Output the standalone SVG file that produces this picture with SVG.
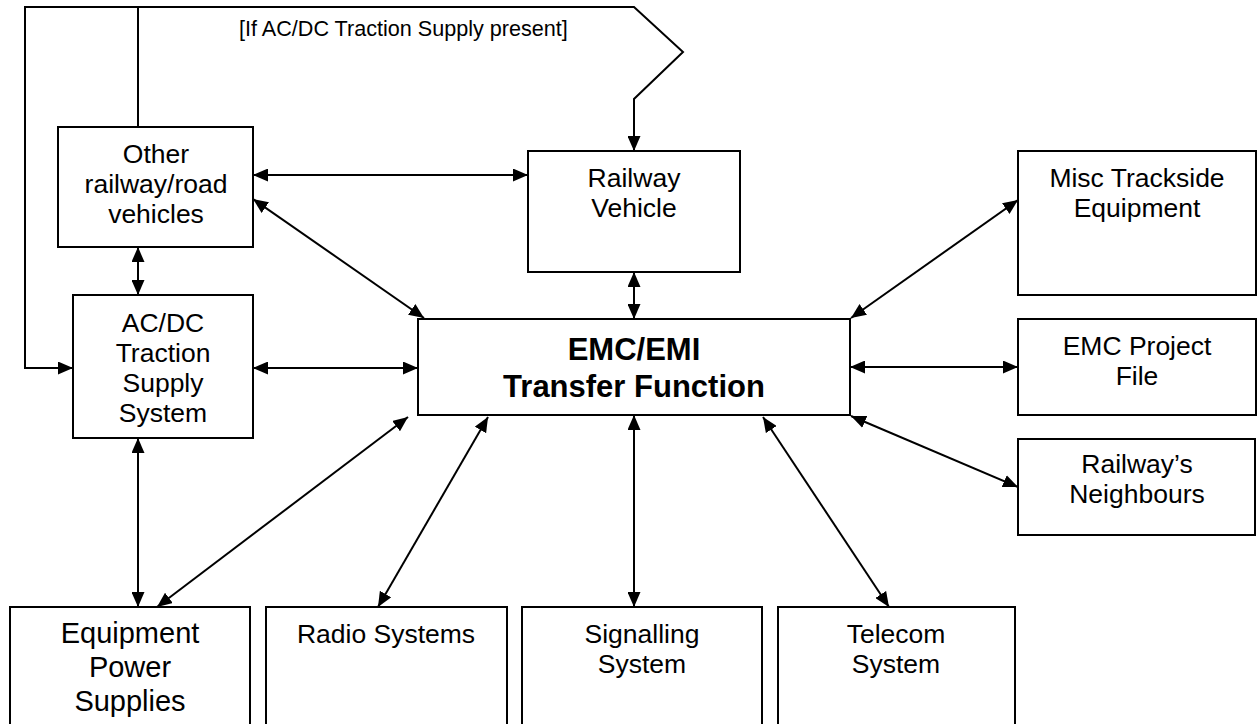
<svg xmlns="http://www.w3.org/2000/svg" width="1258" height="724" viewBox="0 0 1258 724">
  <style>
    .box { fill: #ffffff; stroke: #000000; stroke-width: 2; }
    .lbl { font-family: "Liberation Sans", Arial, sans-serif; font-size: 26.5px; fill: #000000; text-anchor: middle; }
    .big { font-family: "Liberation Sans", Arial, sans-serif; font-size: 29px; fill: #000000; text-anchor: middle; }
    .main { font-family: "Liberation Sans", Arial, sans-serif; font-size: 31px; font-weight: bold; fill: #000000; text-anchor: middle; }
    .note { font-family: "Liberation Sans", Arial, sans-serif; font-size: 21.6px; fill: #000000; }
    .con { fill: none; stroke: #000000; stroke-width: 2; }
    .both { marker-start: url(#ah); marker-end: url(#ah); }
    .one { marker-end: url(#ah); }
  </style>
  <defs>
    <marker id="ah" markerUnits="userSpaceOnUse" markerWidth="15" markerHeight="13" refX="15" refY="6.5" orient="auto-start-reverse" viewBox="0 0 15 13">
      <path d="M0,0 L15,6.5 L0,13 Z" fill="#000000"/>
    </marker>
  </defs>
  <rect x="0" y="0" width="1258" height="724" fill="#ffffff"/>

  <g id="connectors">
    <polyline class="con one" points="634,7 25,7 25,368 73,368" />
    <polyline class="con one" points="138,7 634,7 683,52 634,99 634,151" />
    <line class="con" x1="138" y1="7" x2="138" y2="127" />
    <line class="con both" x1="253" y1="175" x2="528" y2="175" />
    <line class="con both" x1="253" y1="199" x2="424" y2="318" />
    <line class="con both" x1="138" y1="247" x2="138" y2="295" />
    <line class="con both" x1="634" y1="272" x2="634" y2="319" />
    <line class="con both" x1="253" y1="368" x2="418" y2="368" />
    <line class="con both" x1="138" y1="438" x2="138" y2="607" />
    <line class="con both" x1="157" y1="607" x2="408" y2="417" />
    <line class="con both" x1="378" y1="607" x2="488" y2="417" />
    <line class="con both" x1="634" y1="415" x2="634" y2="607" />
    <line class="con both" x1="889" y1="607" x2="763" y2="417" />
    <line class="con both" x1="1018" y1="200" x2="851" y2="318" />
    <line class="con both" x1="850" y1="367" x2="1018" y2="367" />
    <line class="con both" x1="851" y1="416" x2="1018" y2="487" />
  </g>

  <text class="note" x="239" y="36">[If AC/DC Traction Supply present]</text>

  <g id="other-vehicles">
    <rect class="box" x="58" y="127" width="195" height="120"/>
    <text class="lbl" x="156" y="163">Other</text>
    <text class="lbl" x="156" y="193">railway/road</text>
    <text class="lbl" x="156" y="223">vehicles</text>
  </g>

  <g id="railway-vehicle">
    <rect class="box" x="528" y="151" width="212" height="121"/>
    <text class="lbl" x="634" y="187">Railway</text>
    <text class="lbl" x="634" y="217">Vehicle</text>
  </g>

  <g id="misc-trackside">
    <rect class="box" x="1018" y="151" width="238" height="144"/>
    <text class="lbl" x="1137" y="187">Misc Trackside</text>
    <text class="lbl" x="1137" y="217">Equipment</text>
  </g>

  <g id="traction-supply">
    <rect class="box" x="73" y="295" width="180" height="143"/>
    <text class="lbl" x="163" y="332">AC/DC</text>
    <text class="lbl" x="163" y="362">Traction</text>
    <text class="lbl" x="163" y="392">Supply</text>
    <text class="lbl" x="163" y="422">System</text>
  </g>

  <g id="emc-transfer">
    <rect class="box" x="418" y="319" width="432" height="96"/>
    <text class="main" x="634" y="360">EMC/EMI</text>
    <text class="main" x="634" y="397">Transfer Function</text>
  </g>

  <g id="emc-project-file">
    <rect class="box" x="1018" y="319" width="238" height="96"/>
    <text class="lbl" x="1137" y="355">EMC Project</text>
    <text class="lbl" x="1137" y="385">File</text>
  </g>

  <g id="neighbours">
    <rect class="box" x="1018" y="439" width="237" height="96"/>
    <text class="lbl" x="1137" y="473">Railway’s</text>
    <text class="lbl" x="1137" y="503">Neighbours</text>
  </g>

  <g id="equipment-power">
    <rect class="box" x="10" y="607" width="240" height="130"/>
    <text class="big" x="130" y="643">Equipment</text>
    <text class="big" x="130" y="677">Power</text>
    <text class="big" x="130" y="711">Supplies</text>
  </g>

  <g id="radio">
    <rect class="box" x="266" y="607" width="241" height="130"/>
    <text class="lbl" x="386" y="643">Radio Systems</text>
  </g>

  <g id="signalling">
    <rect class="box" x="522" y="607" width="240" height="130"/>
    <text class="lbl" x="642" y="643">Signalling</text>
    <text class="lbl" x="642" y="673">System</text>
  </g>

  <g id="telecom">
    <rect class="box" x="778" y="607" width="237" height="130"/>
    <text class="lbl" x="896" y="643">Telecom</text>
    <text class="lbl" x="896" y="673">System</text>
  </g>
</svg>
